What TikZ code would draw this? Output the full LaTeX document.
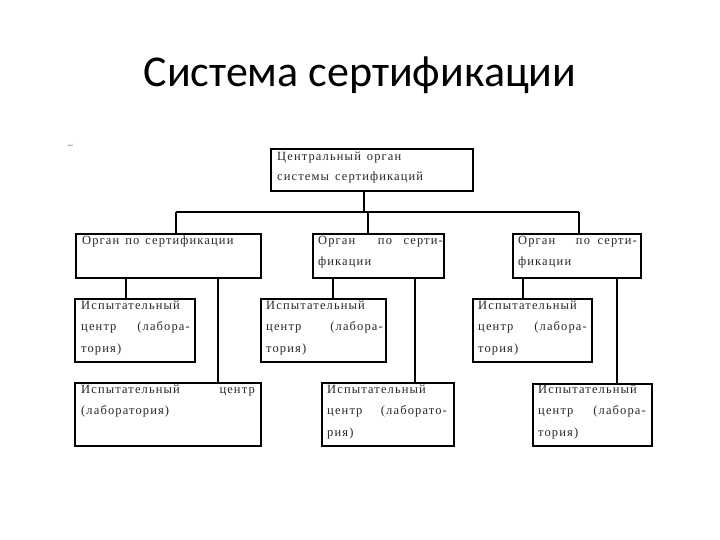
\documentclass[tikz,border=0pt]{standalone}
\usepackage{fontspec}
\setmainfont{Liberation Serif}
\newfontfamily\titlefont{Carlito}
\newfontfamily\boxfont[LetterSpace=9,WordSpace=1.4]{Liberation Serif}
\begin{document}
\begin{tikzpicture}[x=1bp,y=-1bp,
  box/.style={draw,line width=2.1pt,rectangle,anchor=north west,inner sep=0pt},
  conn/.style={line width=1.8pt},
  txt/.style={inner sep=0pt,font=\boxfont\fontsize{12.5bp}{14bp}\selectfont,text=black!85},
  tl/.style={txt,anchor=base west},
  tr/.style={txt,anchor=base east}]
\useasboundingbox (0,0) rectangle (720,540);
\node[inner sep=0pt,anchor=base,font=\titlefont\fontsize{44bp}{50bp}\selectfont] (title) at (360,87) {Система сертификации};
\node[inner sep=0pt,rotate=90,font=\fontsize{7bp}{8bp}\selectfont,text=black!60] (mark) at (70,146) {1};
% boxes
\node[box,minimum width=202bp,minimum height=42bp] (top) at (270,148) {};
\node[box,minimum width=185bp,minimum height=44bp] (o1) at (75,233) {};
\node[box,minimum width=131bp,minimum height=44bp] (o2) at (312,233) {};
\node[box,minimum width=128bp,minimum height=44bp] (o3) at (512,233) {};
\node[box,minimum width=120bp,minimum height=63bp] (i1) at (74,298) {};
\node[box,minimum width=125bp,minimum height=63bp] (i2) at (260,298) {};
\node[box,minimum width=119bp,minimum height=63bp] (i3) at (472,298) {};
\node[box,minimum width=186bp,minimum height=63bp] (b1) at (74,382) {};
\node[box,minimum width=132bp,minimum height=63bp] (b2) at (321,382) {};
\node[box,line width=1.6pt,minimum width=119bp,minimum height=62bp] (b3) at (532,383) {};
% texts
\node[tl] (t1) at (277,161) {Центральный орган};
\node[tl] (t2) at (277,181) {системы сертификаций};
\node[tl] (o1a) at (82,245) {Орган по сертификации};
\node[tl] (o2a) at (318,245) {Орган};
\node[txt,anchor=base] (o2b) at (385,245) {по};
\node[tr] (o2c) at (443,245) {серти-};
\node[tl] (o2d) at (318,266) {фикации};
\node[tl] (o3a) at (518,245) {Орган};
\node[txt,anchor=base] (o3b) at (583,245) {по};
\node[tr] (o3c) at (637,245) {серти-};
\node[tl] (o3d) at (518,266) {фикации};
% IC boxes
\node[tl] (i1a) at (81,309) {Испытательный};
\node[tl] (i1b) at (81,330) {центр};
\node[tr] (i1c) at (190,330) {(лабора-};
\node[tl] (i1d) at (81,352) {тория)};
\node[tl] (i2a) at (266,309) {Испытательный};
\node[tl] (i2b) at (266,330) {центр};
\node[tr] (i2c) at (383,330) {(лабора-};
\node[tl] (i2d) at (266,352) {тория)};
\node[tl] (i3a) at (478,309) {Испытательный};
\node[tl] (i3b) at (478,330) {центр};
\node[tr] (i3c) at (587,330) {(лабора-};
\node[tl] (i3d) at (478,352) {тория)};
\node[tl] (b1a) at (81,393) {Испытательный};
\node[tr] (b1b) at (255,393) {центр};
\node[tl] (b1c) at (81,414) {(лаборатория)};
\node[tl] (b2a) at (327,393) {Испытательный};
\node[tl] (b2b) at (327,414) {центр};
\node[tr] (b2c) at (447,414) {(лаборато-};
\node[tl] (b2d) at (327,436) {рия)};
\node[tl] (b3a) at (538,393) {Испытательный};
\node[tl] (b3b) at (538,414) {центр};
\node[tr] (b3c) at (646,414) {(лабора-};
\node[tl] (b3d) at (538,436) {тория)};
% connectors
\coordinate (busL) at (176,212);
\coordinate (busR) at (579,212);
\coordinate (busM) at (368,212);
\draw[conn] ([xshift=-8bp]top.south) -- ([xshift=-8bp]top.south |- busL);
\draw[conn] (busL) -- (busR);
\draw[conn] (busL) -- (busL |- o1.north);
\draw[conn] (busM) -- (busM |- o2.north);
\draw[conn] (busR) -- (busR |- o3.north);
\draw[conn] ([xshift=52bp]i1.north west) -- ([xshift=52bp]i1.north west |- o1.south);
\draw[conn] ([xshift=144bp]b1.north west) -- ([xshift=144bp]b1.north west |- o1.south);
\draw[conn] ([xshift=73bp]i2.north west) -- ([xshift=73bp]i2.north west |- o2.south);
\draw[conn] ([xshift=94bp]b2.north west) -- ([xshift=94bp]b2.north west |- o2.south);
\draw[conn] ([xshift=51bp]i3.north west) -- ([xshift=51bp]i3.north west |- o3.south);
\draw[conn,line width=1.4pt] ([xshift=85bp]b3.north west) -- ([xshift=85bp]b3.north west |- o3.south);
\end{tikzpicture}
\end{document}
